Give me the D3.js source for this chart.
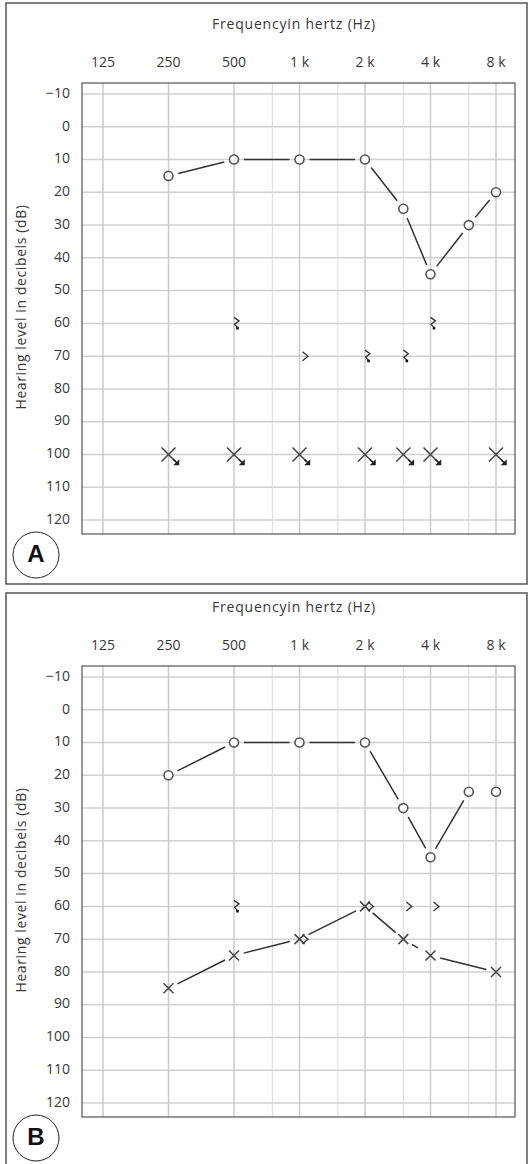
<!DOCTYPE html>
<html>
<head>
<meta charset="utf-8">
<script src="https://cdn.jsdelivr.net/npm/d3@7"></script>
<style>
  body { margin: 0; background: #fff; }
  svg { display: block; }
  text { font-family: "Open Sans", "Lato", sans-serif; fill: #383838; }
</style>
</head>
<body>
<script>
// audiogram axes
const freqTicks = [125, 250, 500, 1000, 2000, 4000, 8000];
const freqLabels = ["125", "250", "500", "1 k", "2 k", "4 k", "8 k"];
const halfOctaves = [750, 1500, 3000, 6000];
const dbTicks = [-10, 0, 10, 20, 30, 40, 50, 60, 70, 80, 90, 100, 110, 120];

// panel A
const airRightFreqA = [250, 500, 1000, 2000, 3000, 4000, 6000, 8000];
const airRightA = [15, 10, 10, 10, 25, 45, 30, 20];
const boneFreqA = [500, 1000, 2000, 3000, 4000];
const boneA = [60, 70, 70, 70, 60];
const boneTailA = [true, false, true, true, true];
const airLeftFreqA = [250, 500, 1000, 2000, 3000, 4000, 8000];
const airLeftA = [100, 100, 100, 100, 100, 100, 100];

// panel B
const airRightFreqB = [250, 500, 1000, 2000, 3000, 4000, 6000, 8000];
const airRightB = [20, 10, 10, 10, 30, 45, 25, 25];
const boneFreqB = [500, 1000, 2000, 3000, 4000];
const boneB = [60, 70, 60, 60, 60];
const boneTailB = [true, false, false, false, false];
const airLeftFreqB = [250, 500, 1000, 2000, 3000, 4000, 8000];
const airLeftB = [85, 75, 70, 60, 70, 75, 80];

const svg = d3.select("body").append("svg")
    .attr("width", 530)
    .attr("height", 1164);

// panel frames
svg.append("rect").attr("x", 6).attr("y", 3).attr("width", 521).attr("height", 581)
    .attr("fill", "none").attr("stroke", "#555").attr("stroke-width", 1.5);
svg.append("rect").attr("x", 6).attr("y", 593).attr("width", 521).attr("height", 580)
    .attr("fill", "none").attr("stroke", "#555").attr("stroke-width", 1.5);

function shorten(p, q, gap) {
    let dx = q[0] - p[0], dy = q[1] - p[1];
    let len = Math.sqrt(dx * dx + dy * dy);
    let ux = dx / len, uy = dy / len;
    return [p[0] + ux * gap, p[1] + uy * gap, q[0] - ux * gap, q[1] - uy * gap];
}

function drawPanel(top, letter, d) {
    let g = svg.append("g").attr("transform", `translate(0,${top})`);

    let x = d3.scaleLog().base(2).domain([125, 8000]).range([103, 496]);
    let y = d3.scaleLinear().domain([-10, 120]).range([94, 520]);

    // grid
    g.selectAll(".hgrid").data(dbTicks).enter().append("line")
        .attr("x1", 82).attr("x2", 515)
        .attr("y1", v => y(v)).attr("y2", v => y(v))
        .attr("stroke", "#d0d0d0").attr("stroke-width", 1.5);
    g.selectAll(".vgrid").data(freqTicks).enter().append("line")
        .attr("x1", f => x(f)).attr("x2", f => x(f))
        .attr("y1", 83).attr("y2", 534)
        .attr("stroke", "#cbcbcb").attr("stroke-width", 1.5);
    g.selectAll(".vgrid2").data(halfOctaves).enter().append("line")
        .attr("x1", f => x(f)).attr("x2", f => x(f))
        .attr("y1", 83).attr("y2", 534)
        .attr("stroke", "#dadada").attr("stroke-width", 1);

    g.append("rect").attr("x", 82).attr("y", 83).attr("width", 433).attr("height", 451)
        .attr("fill", "none").attr("stroke", "#333").attr("stroke-width", 1);

    // axis labels
    g.selectAll(".ftick").data(freqTicks).enter().append("text")
        .attr("x", f => x(f)).attr("y", 63)
        .attr("text-anchor", "middle").attr("dominant-baseline", "middle")
        .style("font-size", "14px")
        .text((f, i) => freqLabels[i]);
    g.selectAll(".dtick").data(dbTicks).enter().append("text")
        .attr("x", 70).attr("y", v => y(v))
        .attr("text-anchor", "end").attr("dominant-baseline", "middle")
        .style("font-size", "14px")
        .text(v => v < 0 ? "\u2212" + Math.abs(v) : v);
    g.append("text")
        .attr("x", 294).attr("y", 25)
        .attr("text-anchor", "middle").attr("dominant-baseline", "middle")
        .style("font-size", "14px").style("letter-spacing", "0.8px")
        .text("Frequencyin hertz (Hz)");
    g.append("text")
        .attr("transform", `translate(22,${y(55)}) rotate(-90)`)
        .attr("text-anchor", "middle").attr("dominant-baseline", "middle")
        .style("font-size", "14px").style("letter-spacing", "0.6px")
        .text("Hearing level in decibels (dB)");

    // panel letter
    g.append("circle").attr("cx", 36).attr("cy", 555).attr("r", 23)
        .attr("fill", "#fff").attr("stroke", "#222").attr("stroke-width", 1);
    g.append("text").attr("x", 36).attr("y", 556)
        .attr("text-anchor", "middle").attr("dominant-baseline", "middle")
        .style("font-family", "'Liberation Sans', Arial, sans-serif")
        .style("font-weight", "bold").style("font-size", "24px").style("fill", "#111")
        .text(letter);

    // connecting lines
    function link(freqs, vals, skip, dashed) {
        for (let i = 0; i < freqs.length - 1; i++) {
            if (skip.includes(i)) continue;
            let s = shorten([x(freqs[i]), y(vals[i])], [x(freqs[i + 1]), y(vals[i + 1])], 10);
            g.append("line")
                .attr("x1", s[0]).attr("y1", s[1]).attr("x2", s[2]).attr("y2", s[3])
                .attr("stroke", "#333").attr("stroke-width", 1.5)
                .attr("stroke-dasharray", dashed.includes(i) ? "7,5,2,4" : null);
        }
    }
    link(d.airRightFreq, d.airRight, d.rightSkip, []);
    if (d.leftLinked) link(d.airLeftFreq, d.airLeft, [], d.leftDashed);

    // O markers
    g.selectAll(".oMark").data(d.airRight).enter().append("circle")
        .attr("cx", (v, i) => x(d.airRightFreq[i]))
        .attr("cy", v => y(v))
        .attr("r", 4.5)
        .attr("fill", "#fff").attr("stroke", "#555").attr("stroke-width", 1.6);

    // X markers
    let xs = g.selectAll(".xMark").data(d.airLeft).enter().append("g")
        .attr("transform", (v, i) => `translate(${x(d.airLeftFreq[i])},${y(v)})`);
    let hs = d.leftArrow ? 7 : 5;
    xs.append("path")
        .attr("d", `M${-hs},${-hs}L${hs},${hs}M${-hs},${hs}L${hs},${-hs}`)
        .attr("stroke", "#444").attr("stroke-width", 1.5).attr("fill", "none");
    if (d.leftArrow) {
        xs.append("path")
            .attr("d", "M5,5L10,10M10,10L6.5,10L10,6.5Z")
            .attr("stroke", "#222").attr("stroke-width", 1.5).attr("fill", "#222");
    }

    // bone conduction symbols
    let bs = g.selectAll(".bMark").data(d.bone).enter().append("g")
        .attr("transform", (v, i) => `translate(${x(d.boneFreq[i]) + (d.boneTail[i] ? 3 : 6)},${y(v)})`);
    bs.append("path")
        .attr("d", (v, i) => d.boneTail[i]
            ? "M-3,-6L2,-2.5L-2.5,1L0.5,4"
            : "M-3,-4.5L2.5,0L-3,4.5")
        .attr("stroke", "#333").attr("stroke-width", 1.3).attr("fill", "none");
    bs.filter((v, i) => d.boneTail[i]).append("rect")
        .attr("x", -0.8).attr("y", 3.5).attr("width", 2.6).attr("height", 2.6)
        .attr("fill", "#111");
}

drawPanel(0, "A", {
    airRightFreq: airRightFreqA, airRight: airRightA, rightSkip: [],
    boneFreq: boneFreqA, bone: boneA, boneTail: boneTailA,
    airLeftFreq: airLeftFreqA, airLeft: airLeftA,
    leftLinked: false, leftArrow: true, leftDashed: []
});

drawPanel(583, "B", {
    airRightFreq: airRightFreqB, airRight: airRightB, rightSkip: [6],
    boneFreq: boneFreqB, bone: boneB, boneTail: boneTailB,
    airLeftFreq: airLeftFreqB, airLeft: airLeftB,
    leftLinked: true, leftArrow: false, leftDashed: [4]
});
</script>
</body>
</html>
